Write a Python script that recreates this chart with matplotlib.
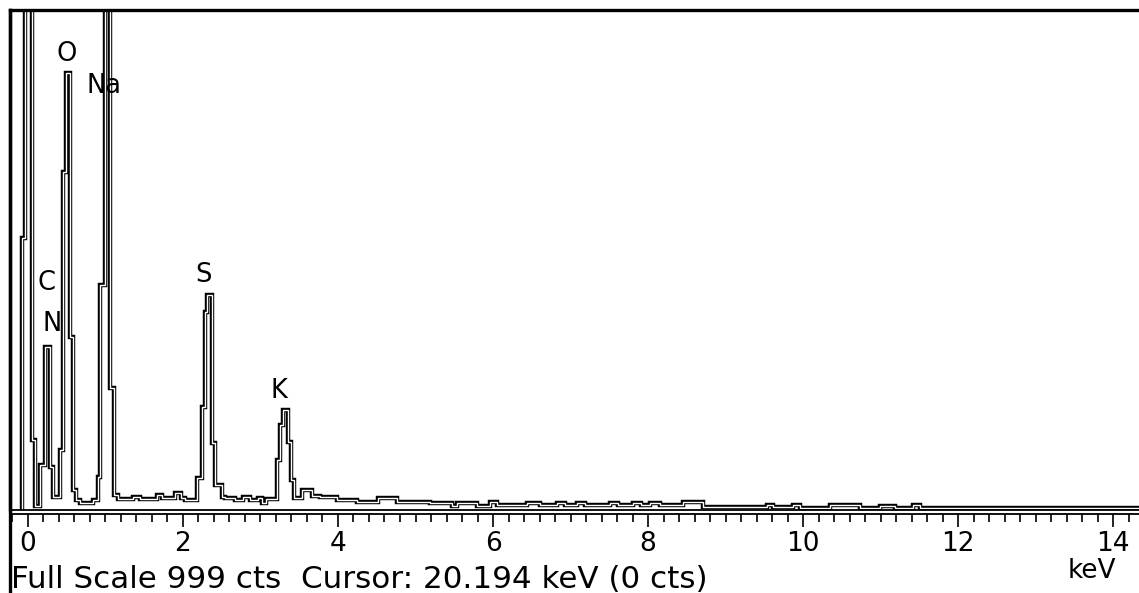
import matplotlib
matplotlib.use("Agg")
import matplotlib.pyplot as plt
from matplotlib.lines import Line2D
from matplotlib.ticker import MultipleLocator

plt.rcParams["font.family"] = ["DejaVu Sans"]

# EDS spectrum (keV edges, counts per bin)
edges_kev = [
    -0.077, -0.039, 0.052, 0.090, 0.155, 0.219, 0.284, 0.323, 0.413, 0.452,
    0.490, 0.542, 0.581, 0.619, 0.671, 0.839, 0.903, 0.929, 0.994, 1.058,
    1.110, 1.161, 1.355, 1.445, 1.665, 1.729, 1.897, 1.974, 2.026, 2.181,
    2.245, 2.284, 2.310, 2.374, 2.413, 2.503, 2.542, 2.671, 2.774, 2.865,
    2.968, 3.019, 3.071, 3.213, 3.252, 3.290, 3.355, 3.394, 3.432, 3.535,
    3.665, 3.768, 3.987, 4.245, 4.516, 4.761, 5.187, 5.471, 5.535, 5.794,
    5.961, 6.052, 6.439, 6.606, 6.826, 6.929, 7.084, 7.187, 7.510, 7.613,
    7.806, 7.910, 8.026, 8.155, 8.452, 8.710, 9.535, 9.613, 9.871, 9.961,
    10.348, 10.735, 10.994, 11.187, 11.419, 11.510, 14.6,
]
counts = [
    544, 2400, 140, 8, 90, 326, 86, 26, 120, 676,
    874, 346, 40, 20, 14, 20, 66, 450, 2600, 244,
    30, 22, 26, 22, 30, 24, 34, 24, 20, 64,
    206, 396, 430, 134, 50, 26, 24, 20, 26, 20,
    24, 14, 22, 100, 170, 200, 136, 60, 24, 40,
    28, 26, 20, 16, 24, 16, 14, 8, 14, 8,
    16, 10, 14, 10, 14, 10, 14, 10, 14, 10,
    14, 10, 14, 10, 16, 6, 10, 6, 10, 5,
    10, 5, 8, 5, 10, 4,
]

# element labels: (symbol, keV, counts) of the text centre
peak_labels = [
    ("O", 0.503, 912),
    ("Na", 0.981, 848),
    ("C", 0.245, 454),
    ("N", 0.310, 372),
    ("S", 2.258, 470),
    ("K", 3.239, 238),
]

major_ticks = [0, 2, 4, 6, 8, 10, 12, 14]
full_scale = 999
footer = f"Full Scale {full_scale} cts  Cursor: 20.194 keV (0 cts)"

W, H = 1139, 593
fig = plt.figure(figsize=(W / 100, H / 100), dpi=100)
ax = fig.add_axes([10 / W, 83 / H, 1129 / W, 500 / H])

ax.stairs(counts, edges_kev, baseline=0, color="black", linewidth=3.2)
ax.stairs(counts, edges_kev, baseline=0, color="white", linewidth=1.0)

ax.set_xlim(-0.232, 14.335)
ax.set_ylim(0, 1000)

ax.spines["right"].set_visible(False)
ax.spines["top"].set_linewidth(2.4)
ax.spines["left"].set_linewidth(2.4)
ax.spines["bottom"].set_linewidth(1.3)
ax.spines["bottom"].set_position(("outward", 2.6))
ax.axhline(0, color="black", linewidth=1.3, clip_on=False)

ax.set_yticks([])
ax.set_xticks(major_ticks)
ax.xaxis.set_minor_locator(MultipleLocator(0.2))
ax.tick_params(axis="x", which="major", direction="out", length=9,
               width=1.2, pad=3.5, labelsize=19)
ax.tick_params(axis="x", which="minor", direction="out", length=5.5,
               width=1.2)

for name, x, y in peak_labels:
    ax.text(x, y, name, ha="center", va="center", fontsize=18.5, clip_on=False)

# left border runs to the bottom of the picture
fig.add_artist(Line2D([10 / W, 10 / W], [0, 583 / H], color="black",
                      linewidth=2.4, transform=fig.transFigure))

fig.text(11 / W, 5 / H, footer, ha="left", va="baseline", fontsize=22.3)
fig.text(1092 / W, 15 / H, "keV", ha="center", va="baseline", fontsize=19)

fig.savefig("out.png", dpi=100)
